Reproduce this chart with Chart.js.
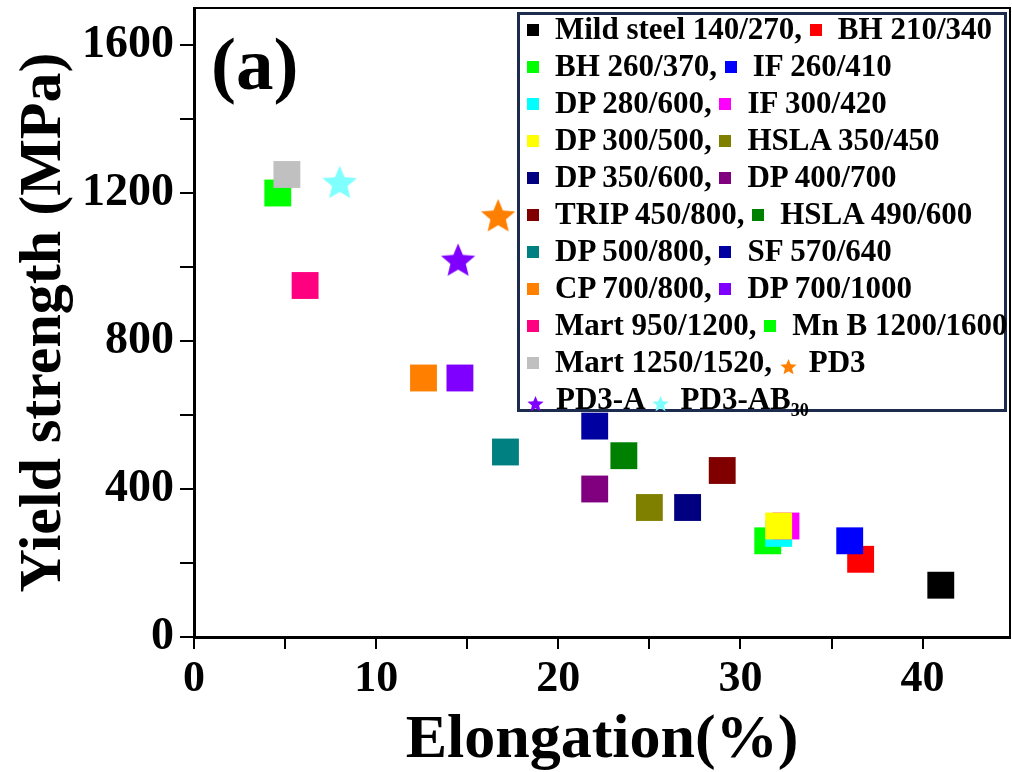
<!DOCTYPE html>
<html>
<head>
<meta charset="utf-8">
<script src="https://cdn.jsdelivr.net/npm/chart.js@4.4.0/dist/chart.umd.min.js"></script>
<style>
  body { margin: 0; background: #fff; }
  #wrap { position: relative; width: 1012px; height: 772px; }
  #legend {
    position: absolute; left: 517px; top: 12px; width: 484px; height: 394px;
    border: 3px solid #1d2b4f; background: #fff;
    font: bold 31px "Liberation Serif", "Times New Roman", serif; color: #000;
  }
  .row { height: 37px; line-height: 37px; white-space: nowrap; padding-left: 7px; position: relative; top: -5px; }
  .mk { display: inline-block; width: 12px; height: 12px; margin-right: 16px; vertical-align: middle; position: relative; top: -2px; }
  .st { display: inline-block; width: 17px; height: 17px; margin-right: 12px; vertical-align: middle; position: relative; top: 2px; }
  sub { font-size: 18px; line-height: 0; }
</style>
</head>
<body>
<div id="wrap">
  <canvas id="myChart" width="1012" height="772"></canvas>
  <div id="legend"></div>
</div>
<script>
// data
var labels = ['Mild steel 140/270', 'BH 210/340', 'BH 260/370', 'IF 260/410', 'DP 280/600', 'IF 300/420',
  'DP 300/500', 'HSLA 350/450', 'DP 350/600', 'DP 400/700', 'TRIP 450/800', 'HSLA 490/600',
  'DP 500/800', 'SF 570/640', 'CP 700/800', 'DP 700/1000', 'Mart 950/1200', 'Mn B 1200/1600',
  'Mart 1250/1520', 'PD3', 'PD3-A', 'PD3-AB30'];
var elongation = [41.0, 36.6, 31.5, 36.0, 32.1, 32.5, 32.1, 25.0, 27.1, 22.0, 29.0, 23.6,
  17.1, 22.0, 12.6, 14.6, 6.1, 4.6, 5.1, 16.7, 14.5, 8.0];
var yieldStrength = [140, 210, 260, 260, 280, 300, 300, 350, 350, 400, 450, 490,
  500, 570, 700, 700, 950, 1200, 1250, 1140, 1020, 1230];
var colors = ['#000000', '#ff0000', '#00ff00', '#0000ff', '#00ffff', '#ff00ff', '#ffff00', '#808000',
  '#000080', '#800080', '#800000', '#008000', '#008080', '#0000a0', '#ff8000', '#8000ff',
  '#ff0080', '#00ff00', '#c0c0c0', '#ff8000', '#8000ff', '#80ffff'];
var isStar = [false, false, false, false, false, false, false, false, false, false, false, false,
  false, false, false, false, false, false, false, true, true, true];

var xTicks = [0, 5, 10, 15, 20, 25, 30, 35, 40];
var xTickLabels = [0, 10, 20, 30, 40];
var yTicks = [0, 200, 400, 600, 800, 1000, 1200, 1400, 1600];
var yTickLabels = [0, 400, 800, 1200, 1600];

function starPoints(size) {
  var R = size / 2, r = R * 0.45, pts = [];
  for (var i = 0; i < 10; i++) {
    var a = -Math.PI / 2 + i * Math.PI / 5;
    var rad = i % 2 ? r : R;
    pts.push([R + rad * Math.cos(a), R + rad * Math.sin(a) + size * 0.05]);
  }
  return pts;
}

function starCanvas(color, size) {
  var c = document.createElement('canvas');
  c.width = c.height = size;
  var g = c.getContext('2d');
  g.beginPath();
  starPoints(size).forEach(function (p) { g.lineTo(p[0], p[1]); });
  g.closePath();
  g.fillStyle = color;
  g.fill();
  return c;
}

function starSvg(color) {
  var pts = starPoints(17).map(function (p) { return p[0].toFixed(1) + ',' + p[1].toFixed(1); }).join(' ');
  return '<svg class="st" viewBox="0 0 17 17"><polygon points="' + pts + '" fill="' + color + '"/></svg>';
}

function labelHtml(s) {
  return s.replace(/^(PD3-AB)(\d+)$/, '$1<sub>$2</sub>');
}

function marker(i) {
  return isStar[i] ? starSvg(colors[i]) : '<span class="mk" style="background:' + colors[i] + '"></span>';
}

// legend, two entries per row
var html = '';
var nRows = Math.ceil(labels.length / 2);
for (var r = 0; r < nRows; r++) {
  var a = 2 * r, b = 2 * r + 1;
  html += '<div class="row">' + marker(a) + labelHtml(labels[a]) + (r < nRows - 1 ? ',' : '');
  if (b < labels.length) html += ' ' + marker(b) + labelHtml(labels[b]);
  html += '</div>';
}
document.getElementById('legend').innerHTML = html;

var datasets = labels.map(function (name, i) {
  return {
    label: name,
    data: [{ x: elongation[i], y: yieldStrength[i] }],
    backgroundColor: colors[i],
    borderWidth: 0,
    pointStyle: isStar[i] ? starCanvas(colors[i], 36) : 'rect',
    pointRadius: 19,
    order: -i
  };
});

var framePlugin = {
  id: 'frame',
  afterDraw: function (chart) {
    var a = chart.chartArea, ctx = chart.ctx;
    ctx.save();
    ctx.strokeStyle = '#000';
    ctx.lineWidth = 2;
    ctx.beginPath();
    ctx.moveTo(a.left, a.top);
    ctx.lineTo(a.right, a.top);
    ctx.lineTo(a.right, a.bottom);
    ctx.stroke();
    ctx.restore();
  }
};

var serif = '"Liberation Serif", "Times New Roman", serif';
var ctx = document.getElementById('myChart').getContext('2d');
var myChart = new Chart(ctx, {
  type: 'scatter',
  data: { datasets: datasets },
  options: {
    responsive: false,
    animation: false,
    layout: { autoPadding: false, padding: { top: 8, right: 2, left: 0, bottom: 0 } },
    plugins: { legend: { display: false }, tooltip: { enabled: false } },
    scales: {
      x: {
        min: 0, max: 44.8,
        afterBuildTicks: function (s) { s.ticks = xTicks.map(function (v) { return { value: v }; }); },
        afterFit: function (s) { s.height = 135; s.paddingLeft = 0; s.paddingRight = 0; },
        grid: { drawOnChartArea: false, color: '#000', lineWidth: 2, tickLength: 12 },
        border: { color: '#000', width: 3 },
        ticks: {
          color: '#000', padding: 9, maxRotation: 0, autoSkip: false,
          font: { family: serif, weight: 'bold', size: 44, lineHeight: 1 },
          callback: function (v) { return xTickLabels.indexOf(v) >= 0 ? v : ''; }
        },
        title: {
          display: true, text: 'Elongation(%)', color: '#000', padding: 0,
          font: { family: serif, weight: 'bold', size: 62, lineHeight: 1 }
        }
      },
      y: {
        min: 0, max: 1700,
        afterBuildTicks: function (s) { s.ticks = yTicks.map(function (v) { return { value: v }; }); },
        afterFit: function (s) { s.width = 194; s.paddingTop = 0; s.paddingBottom = 0; },
        grid: { drawOnChartArea: false, color: '#000', lineWidth: 2, tickLength: 14 },
        border: { color: '#000', width: 3 },
        ticks: {
          color: '#000', padding: 6, autoSkip: false,
          font: { family: serif, weight: 'bold', size: 46, lineHeight: 1 },
          callback: function (v) { return yTickLabels.indexOf(v) >= 0 ? v : ''; }
        },
        title: {
          display: true, text: 'Yield strength (MPa)', color: '#000', padding: { top: 14, bottom: 0 },
          font: { family: serif, weight: 'bold', size: 60, lineHeight: 1 }
        }
      }
    }
  },
  plugins: [framePlugin, {
    id: 'panelLabel',
    afterDraw: function (chart) {
      var c = chart.ctx;
      c.save();
      c.font = 'bold 75px ' + serif;
      c.fillStyle = '#000';
      c.textBaseline = 'alphabetic';
      c.fillText('(a)', 211, 89);
      c.restore();
    }
  }]
});
</script>
</body>
</html>
